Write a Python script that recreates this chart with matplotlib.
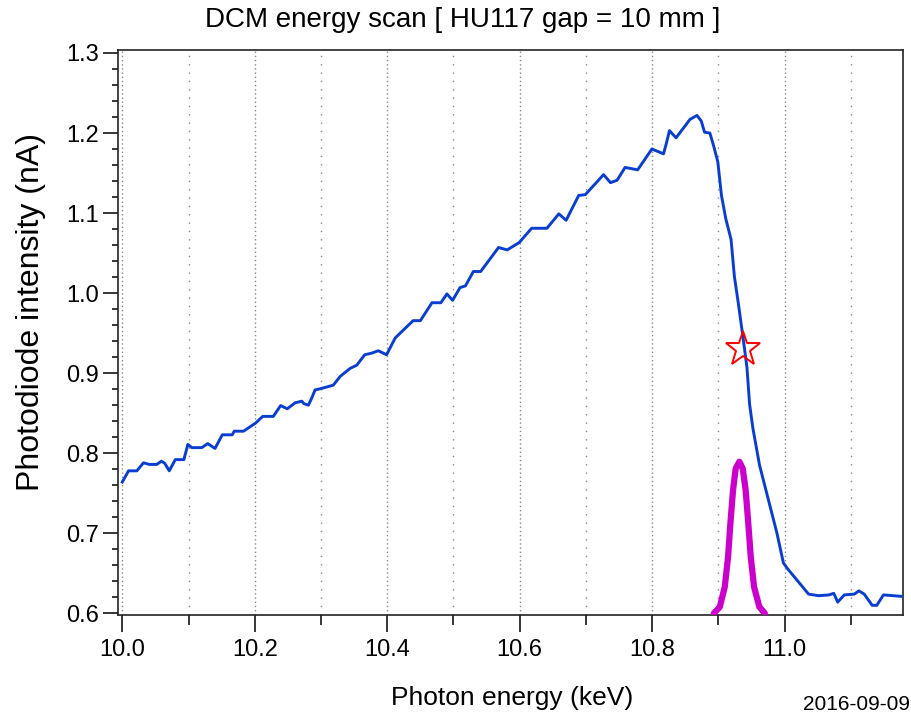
import matplotlib
matplotlib.use("Agg")
import matplotlib.pyplot as plt
from matplotlib.ticker import MultipleLocator

# ---- data ----
scan_energy = [10.000, 10.0095, 10.022, 10.032, 10.041, 10.052, 10.059, 10.064, 10.071, 10.080,
               10.093, 10.099, 10.105, 10.120, 10.129, 10.140, 10.151, 10.166, 10.169, 10.183,
               10.201, 10.212, 10.228, 10.239, 10.249, 10.261, 10.271, 10.274, 10.281, 10.286,
               10.291, 10.301, 10.3185, 10.329, 10.344, 10.354, 10.366, 10.3765, 10.3865, 10.399,
               10.412, 10.427, 10.439, 10.450, 10.4675, 10.481, 10.490, 10.4986, 10.510, 10.518,
               10.530, 10.541, 10.568, 10.581, 10.599, 10.618, 10.641, 10.659, 10.670, 10.689,
               10.699, 10.7265, 10.737, 10.747, 10.759, 10.778, 10.7995, 10.817, 10.821, 10.826,
               10.836, 10.857, 10.8675, 10.874, 10.879, 10.887, 10.893, 10.899, 10.9045, 10.911,
               10.919, 10.924, 10.930, 10.937, 10.943, 10.947, 10.952, 10.962, 10.975, 10.988,
               10.998, 11.004, 11.018, 11.036, 11.051, 11.067, 11.074, 11.080, 11.090, 11.105,
               11.112, 11.120, 11.132, 11.139, 11.149, 11.179]
scan_current = [0.764, 0.778, 0.778, 0.788, 0.786, 0.786, 0.790, 0.7875, 0.778, 0.792,
                0.792, 0.811, 0.807, 0.807, 0.812, 0.806, 0.823, 0.823, 0.8275, 0.8275,
                0.8375, 0.846, 0.846, 0.8595, 0.8555, 0.863, 0.865, 0.862, 0.860, 0.869,
                0.879, 0.881, 0.885, 0.896, 0.906, 0.910, 0.923, 0.925, 0.928, 0.923,
                0.944, 0.956, 0.9656, 0.9656, 0.988, 0.988, 0.999, 0.991, 1.007, 1.009,
                1.027, 1.027, 1.057, 1.054, 1.063, 1.081, 1.081, 1.099, 1.091, 1.122,
                1.123, 1.148, 1.138, 1.141, 1.157, 1.154, 1.180, 1.174, 1.186, 1.203,
                1.194, 1.217, 1.222, 1.215, 1.201, 1.200, 1.183, 1.164, 1.122, 1.093,
                1.067, 1.021, 0.987, 0.945, 0.907, 0.861, 0.831, 0.785, 0.743, 0.701,
                0.663, 0.656, 0.642, 0.624, 0.622, 0.623, 0.625, 0.614, 0.623, 0.624,
                0.628, 0.624, 0.610, 0.610, 0.623, 0.621]

peak_energy = [10.893, 10.902, 10.9095, 10.9145, 10.918, 10.922, 10.926, 10.9315,
               10.9366, 10.941, 10.945, 10.9487, 10.9537, 10.9617, 10.970]
peak_current = [0.600, 0.608, 0.633, 0.6707, 0.7124, 0.754, 0.781, 0.7894,
                0.781, 0.754, 0.7124, 0.6707, 0.633, 0.608, 0.600]

marker_energy = [10.9377]
marker_current = [0.930]

x_ticks = [10.0, 10.2, 10.4, 10.6, 10.8, 11.0]
y_ticks = [0.6, 0.7, 0.8, 0.9, 1.0, 1.1, 1.2, 1.3]

title_text = "DCM energy scan [ HU117 gap = 10 mm ]"
x_label = "Photon energy (keV)"
y_label = "Photodiode intensity (nA)"
date_text = "2016-09-09"

# ---- figure ----
plt.rcParams['font.family'] = ['Liberation Sans', 'DejaVu Sans']
W, H = 912, 721
fig = plt.figure(figsize=(W / 100, H / 100), dpi=100)
ax = fig.add_axes([118.3 / W, 1 - 615 / H, (903.3 - 118.3) / W, (615 - 50) / H])

ax.set_xlim(9.9940, 11.1790)
ax.set_ylim(0.5979, 1.3037)

ax.xaxis.set_minor_locator(MultipleLocator(0.1))
ax.yaxis.set_minor_locator(MultipleLocator(0.02))
ax.set_xticks(x_ticks)
ax.set_yticks(y_ticks)
ax.set_xticklabels([f"{v:.1f}" for v in x_ticks])
ax.set_yticklabels([f"{v:.1f}" for v in y_ticks])

ax.grid(True, which='major', axis='x', color='#888888', linestyle=(0, (1, 2)), linewidth=1.0)
ax.grid(True, which='minor', axis='x', color='#888888', linestyle=(0, (1, 5)), linewidth=1.0)

ax.tick_params(axis='x', which='major', direction='out', length=12, width=1.1, labelsize=17, pad=5)
ax.tick_params(axis='x', which='minor', direction='out', length=7, width=1.1)
ax.tick_params(axis='y', which='major', direction='out', length=11, width=1.1, labelsize=17, pad=3)
ax.tick_params(axis='y', which='minor', direction='out', length=4.5, width=1.1)
for s in ax.spines.values():
    s.set_linewidth(1.2)
    s.set_color('#222222')

ax.plot(scan_energy, scan_current, color='#0A3ED0', linewidth=2.1, zorder=3)
ax.plot(peak_energy, peak_current, color='#CC00CC', linewidth=4.5, solid_capstyle='round',
        solid_joinstyle='round', zorder=4)
ax.plot(marker_energy, marker_current, marker='*', markersize=26, markerfacecolor='none',
        markeredgecolor='#FF0000', markeredgewidth=1.4, linestyle='none', zorder=5)

fig.text(463 / W, 1 - 20 / H, title_text, ha='center', va='center', fontsize=20)
fig.text(512 / W, 1 - 698 / H, x_label, ha='center', va='center', fontsize=19)
fig.text(31 / W, 1 - 312 / H, y_label, ha='center', va='center', rotation=90, fontsize=23)
fig.text(910 / W, 1 - 704 / H, date_text, ha='right', va='center', fontsize=15)

fig.savefig("out.png", dpi=100)
